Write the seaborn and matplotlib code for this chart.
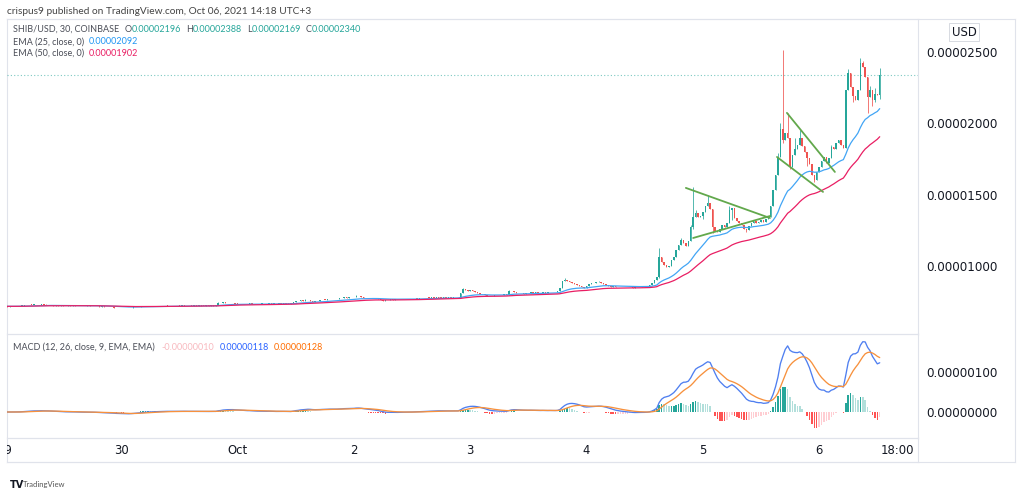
import numpy as np
import pandas as pd
import matplotlib
matplotlib.use("Agg")
import matplotlib.pyplot as plt
import matplotlib.transforms as mtransforms
import seaborn as sns

# ---------------- data: SHIB/USD 30-min candles, prices in units of 1e-8 USD ----------------
sep29_close = [717, 715, 718, 716, 719, 717, 720, 722,
               724, 726, 728, 727, 729, 726, 728, 730,
               727, 725, 727, 724, 722, 724, 721, 723,
               720, 722, 724, 721, 723, 722, 720, 722,
               719, 721, 723, 720, 718, 720, 717, 715,
               717, 714, 712, 714, 711, 708, 705, 707]
sep30_close = [704, 703, 706, 705, 708, 711, 713, 715,
               716, 718, 717, 719, 716, 718, 720, 718,
               721, 719, 722, 720, 718, 721, 719, 722,
               720, 723, 721, 719, 722, 720, 723, 721,
               724, 722, 720, 723, 721, 724, 722, 725,
               742, 738, 745, 740, 743, 739, 741, 736]
oct1_close = [735, 733, 736, 732, 734, 737, 733, 735,
              731, 734, 736, 733, 735, 738, 734, 736,
              733, 737, 735, 738, 736, 734, 737, 748,
              755, 752, 760, 757, 762, 758, 754, 750,
              753, 757, 761, 764, 762, 766, 768, 765,
              769, 767, 772, 776, 780, 778, 782, 779]
oct2_close = [784, 790, 787, 781, 776, 774, 777, 773,
              775, 772, 768, 760, 756, 758, 762, 765,
              763, 767, 765, 768, 766, 769, 767, 770,
              768, 771, 769, 773, 776, 774, 778, 776,
              779, 777, 780, 778, 776, 779, 777, 780,
              778, 781, 779, 782, 812, 835, 830, 826]
oct3_close = [828, 822, 818, 812, 806, 800, 795, 789,
              786, 792, 795, 798, 794, 797, 800, 798,
              822, 826, 818, 812, 808, 811, 806, 809,
              812, 815, 811, 814, 810, 813, 816, 812,
              815, 818, 814, 817, 821, 845, 893, 902,
              897, 889, 880, 872, 866, 858, 850, 843]
oct4_close = [862, 875, 881, 878, 884, 888, 882, 876,
              868, 860, 853, 856, 850, 854, 851, 855,
              852, 849, 853, 846, 850, 855, 852, 856,
              854, 858, 866, 881, 902, 923, 1063, 1030,
              1008, 993, 1002, 1040, 1065, 1112, 1150, 1182,
              1160, 1140, 1175, 1270, 1343, 1370, 1340, 1350]
oct5_close = [1380, 1420, 1440, 1400, 1273, 1245, 1238, 1262,
              1285, 1275, 1301, 1395, 1407, 1336, 1318, 1301,
              1290, 1262, 1252, 1280, 1301, 1315, 1298, 1310,
              1322, 1305, 1330, 1343, 1420, 1533, 1640, 1764,
              1960, 1880, 1935, 1900, 1694, 1780, 1820, 1850,
              1900, 1840, 1800, 1760, 1715, 1640, 1603, 1660]
oct6_close = [1694, 1735, 1764, 1722, 1760, 1834, 1820, 1860,
              1883, 1845, 1830, 2234, 2353, 2255, 2190, 2164,
              2230, 2423, 2395, 2325, 2185, 2234, 2164, 2205,
              2196, 2340]
first_open = 716

# wick extremes (candle index -> price) for candles with visible shadows
wick_high = {17: 731, 88: 750, 124: 769, 145: 793, 189: 846, 208: 830, 231: 916,
             245: 892, 270: 1126, 279: 1195, 283: 1290, 284: 1554, 285: 1395,
             290: 1498, 299: 1420, 319: 1790, 320: 2000, 321: 2514, 323: 2073,
             326: 1900, 328: 1955, 341: 1850, 348: 2380, 353: 2458, 354: 2440,
             357: 2260, 359: 2250, 361: 2388}
wick_low = {270: 915, 284: 1260, 288: 1330, 292: 1228, 300: 1320, 306: 1240,
            321: 1860, 324: 1680, 331: 1700, 334: 1590, 350: 2150, 356: 2073,
            358: 2120, 359: 2150, 361: 2169}

# indicator values printed in the legends
ema25_last, ema50_last = 2092, 1902
macd_hist_last, macd_last, signal_last = -10, 118, 128

day_labels = ["29", "30", "Oct", "2", "3", "4", "5", "6"]
session_label = "18:00"
price_ticks = [1000, 1500, 2000, 2500]
macd_ticks = [0, 100]

# hand-drawn trendlines: (candle index, price)
triangle_upper = ([281.0, 315.7], [1547, 1336])
triangle_lower = ([284.0, 315.7], [1196, 1350])
flag_upper = ([322.7, 342.5], [2073, 1659])
flag_lower = ([318.6, 337.6], [1764, 1519])

# ---------------- build series ----------------
close = np.array(sep29_close + sep30_close + oct1_close + oct2_close +
                 oct3_close + oct4_close + oct5_close + oct6_close, dtype=float)
n = len(close)
idx = np.arange(n)
opn = np.r_[first_open, close[:-1]]
high = np.maximum(opn, close)
low = np.minimum(opn, close)
for k, v in wick_high.items():
    high[k] = max(high[k], v)
for k, v in wick_low.items():
    low[k] = min(low[k], v)

s = pd.Series(close)
ema25 = s.ewm(span=25, adjust=False).mean()
ema50 = s.ewm(span=50, adjust=False).mean()
macd = s.ewm(span=12, adjust=False).mean() - s.ewm(span=26, adjust=False).mean()
signal = macd.ewm(span=9, adjust=False).mean()
hist = macd - signal
df = pd.DataFrame({"t": idx, "close": close, "ema25": ema25, "ema50": ema50,
                   "macd": macd, "signal": signal, "hist": hist})

# ---------------- style ----------------
sns.set_theme(style="white")
plt.rcParams["font.family"] = ["DejaVu Sans"]
UP, DN = "#26a69a", "#ef5350"
BORDER = "#e0e3eb"
TXT = "#131722"
LEG = "#4a4d57"
LFONT = "Lato"

W, H = 1024, 496
fig = plt.figure(figsize=(W / 100, H / 100), dpi=100)
fig.patch.set_facecolor("white")


def rect(x0, y0, x1, y1):
    return [x0 / W, 1 - y1 / H, (x1 - x0) / W, (y1 - y0) / H]


frame = fig.add_axes(rect(7, 19, 1015, 462))
frame.set_xticks([]); frame.set_yticks([])
for sp in frame.spines.values():
    sp.set_color(BORDER); sp.set_linewidth(0.8)
frame.set_zorder(0)

ax = fig.add_axes(rect(7, 19, 918, 334))
axm = fig.add_axes(rect(7, 334, 918, 438), sharex=ax)
axt = fig.add_axes(rect(7, 438, 918, 462), sharex=ax)
for a in (ax, axm, axt):
    a.set_facecolor("none")
    a.set_zorder(2)
    for sp in a.spines.values():
        sp.set_color(BORDER); sp.set_linewidth(0.8)
    a.spines["left"].set_visible(False)
    a.grid(False)

ax.set_xlim(0.83, 376.8)
ax.set_ylim(523, 2731)
axm.set_ylim(-65, 195)

# candles
cols = np.where(close >= opn, UP, DN)
ax.vlines(idx, low, high, colors=cols, linewidth=0.55, zorder=3)
body = np.maximum(np.abs(close - opn), 3.0)
ax.bar(idx, body, bottom=np.minimum(opn, close), width=0.62, color=cols,
       linewidth=0, zorder=4)

# EMAs
sns.lineplot(data=df, x="t", y="ema25", ax=ax, color="#42a5f5", linewidth=0.9,
             legend=False, zorder=5)
sns.lineplot(data=df, x="t", y="ema50", ax=ax, color="#e91e63", linewidth=0.9,
             legend=False, zorder=5)

# last price dotted line
ax.axhline(close[-1], color=UP, linestyle=(0, (1, 2)), linewidth=0.8, alpha=0.6, zorder=2)

# trendlines
for tl in (triangle_upper, triangle_lower, flag_upper, flag_lower):
    ax.plot(tl[0], tl[1], color="#62a84c", linewidth=1.3, zorder=6, solid_capstyle="round")

# MACD
hprev = np.r_[hist.iloc[0], hist.values[:-1]]
hv = hist.values
hcols = np.where(hv >= 0, np.where(hv > hprev, "#26a69a", "#b2dfdb"),
                 np.where(hv < hprev, "#ff5252", "#ffcdd2"))
axm.bar(idx, hv, width=0.62, color=hcols, linewidth=0, zorder=3)
sns.lineplot(data=df, x="t", y="macd", ax=axm, color="#4f7ff0", linewidth=0.95,
             legend=False, zorder=4)
sns.lineplot(data=df, x="t", y="signal", ax=axm, color="#f7913d", linewidth=0.95,
             legend=False, zorder=4)

# axes labels/ticks
for a, ticks in ((ax, price_ticks), (axm, macd_ticks)):
    a.yaxis.tick_right()
    a.set_yticks(ticks)
    a.set_yticklabels([f"{v / 1e8:.8f}" for v in ticks])
    a.tick_params(axis="y", length=0, pad=6, labelsize=8.6, labelcolor=TXT)
    a.tick_params(axis="x", length=0, labelbottom=False)
    a.set_xlabel(""); a.set_ylabel("")
axt.set_yticks([]); axt.tick_params(axis="x", length=0, labelbottom=False)
axt.set_xlabel("")

trans = mtransforms.blended_transform_factory(axt.transData, axt.transAxes)
for d, lab in enumerate(day_labels):
    axt.text(d * 48, 0.5, lab, transform=trans, ha="center", va="center",
             fontsize=8.4, color=TXT, clip_on=True)
trans_last = mtransforms.offset_copy(trans, fig=fig, x=-9, units="dots")
axt.text(7 * 48 + 36, 0.5, session_label, transform=trans_last, ha="center", va="center",
         fontsize=8.4, color=TXT, clip_on=True)

# USD box
fig.text(964 / W, 1 - 32 / H, "USD", ha="center", va="center", fontsize=8.4, color=TXT,
         bbox=dict(boxstyle="square,pad=0.2", fc="white", ec="#d1d4dc", lw=0.6))

# header / legends
HS = 7.25
LS = 6.45
fig.text(7 / W, 1 - 11 / H, "crispus9 published on TradingView.com, Oct 06, 2021 14:18 UTC+3",
         ha="left", va="center", fontsize=HS, color="#444", family=LFONT)


def flow(x_px, y_px, parts):
    t = fig.text(x_px / W, 1 - y_px / H, parts[0][0], ha="left", va="center",
                 fontsize=LS, color=parts[0][1], family=LFONT)
    for txt, c, g in parts[1:]:
        t = ax.annotate(txt, xy=(1, 0.5), xycoords=t, xytext=(g, 0),
                        textcoords="offset points", ha="left", va="center",
                        fontsize=LS, color=c, family=LFONT, annotation_clip=False)


def fmt(v):
    return f"{v / 1e8:.8f}"


flow(13, 29, [("SHIB/USD, 30, COINBASE", LEG, 0),
              ("O", LEG, 4), (fmt(opn[-1]), UP, 0),
              ("H", LEG, 3.5), (fmt(high[-1]), UP, 0),
              ("L", LEG, 3.5), (fmt(low[-1]), UP, 0),
              ("C", LEG, 3.5), (fmt(close[-1]), UP, 0)])
flow(13, 42, [("EMA (25, close, 0)", LEG, 0), (fmt(ema25_last), "#2196f3", 3)])
flow(13, 53, [("EMA (50, close, 0)", LEG, 0), (fmt(ema50_last), "#e91e63", 3)])
flow(13, 347, [("MACD (12, 26, close, 9, EMA, EMA)", LEG, 0),
               (fmt(macd_hist_last), "#f8b9bf", 5),
               (fmt(macd_last), "#2962ff", 3.5),
               (fmt(signal_last), "#ff6d00", 3.5)])

# TradingView mark
fig.text(10 / W, 1 - 485 / H, "TV", ha="left", va="center", fontsize=7, fontweight="bold",
         color="#131722")
fig.text(23 / W, 1 - 485 / H, "TradingView", ha="left", va="center", fontsize=5.5,
         color="#555", family=LFONT)

fig.savefig("out.png", dpi=100, facecolor="white")
